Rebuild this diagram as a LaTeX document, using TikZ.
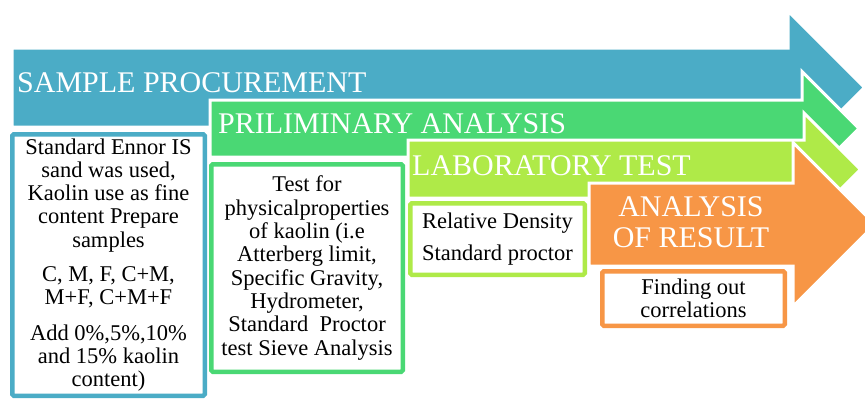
\documentclass[tikz,border=0pt]{standalone}
\usepackage{fontspec}
\setmainfont{Liberation Serif}[Ligatures=TeX]
\usepackage{tikz}
\definecolor{procblue}{HTML}{4BACC6}
\definecolor{prelgreen}{HTML}{4AD874}
\definecolor{labgreen}{HTML}{AFEA48}
\definecolor{resorange}{HTML}{F79646}
\tikzset{%
  phase/.style    = {draw=white, line width=3pt, line join=miter}, % big arrow
  title/.style    = {text=white, inner sep=0pt,
    font=\rmfamily\fontsize{30}{31}\selectfont},
  box/.style      = {draw=#1, line width=4.5pt, rounded corners=1.5pt,
    fill=white, inner sep=0pt, align=center,
    font=\rmfamily\fontsize{22.5}{23.3}\selectfont} % text box
}

\begin{document}
\begin{tikzpicture}[x=1pt, y=-1pt]
\useasboundingbox (0,0) rectangle (865,399);

% arrows, back to front
\filldraw[phase, fill=procblue] (12,48) -- (788,48) -- (788,11) -- (864.5,87.5)
    -- (788,164) -- (788,127) -- (12,127) -- cycle;
\filldraw[phase, fill=prelgreen] (210,100) -- (802,100) -- (802,71.5) -- (859,128.5)
    -- (802,185.5) -- (802,157) -- (210,157) -- cycle;
\filldraw[phase, fill=labgreen] (408,140) -- (804,140) -- (804,113) -- (860.5,169.5)
    -- (804,226) -- (804,198) -- (408,198) -- cycle;
\filldraw[phase, fill=resorange] (589,183) -- (793,183) -- (793,142.5) -- (875,224.5)
    -- (793,306.5) -- (793,266) -- (589,266) -- cycle;

\draw
    node at (17,92)[title, anchor=base west, name=proctitle]{SAMPLE PROCUREMENT}
    node at (218,133)[title, anchor=base west, name=preltitle]{PRILIMINARY ANALYSIS}
    node at (412,175)[title, anchor=base west, name=labtitle]{LABORATORY TEST}
    node at (691,222)[title, align=center, name=restitle]{ANALYSIS\\OF RESULT}
;

\draw
    node at (108.5,265)[box=procblue, minimum width=192.5, minimum height=261.5,
      name=procbox]{Standard Ennor IS\\sand was used,\\Kaolin use as fine\\content Prepare\\samples\\[11pt]
      C, M, F, C+M,\\M+F, C+M+F\\[12pt]
      Add 0\%,5\%,10\%\\and 15\% kaolin\\content)}
    node at (307,268)[box=prelgreen, minimum width=191.5, minimum height=207.5,
      name=prelbox]{Test for\\physicalproperties\\of kaolin (i.e\\Atterberg limit,\\Specific Gravity,\\Hydrometer,\\Standard~~Proctor\\test Sieve Analysis}
    node at (497.5,239)[box=labgreen, minimum width=174.5, minimum height=71.5,
      name=labbox]{Relative Density\\[8.7pt]Standard proctor}
    node at (693.5,298.5)[box=resorange, minimum width=182.5, minimum height=54.5,
      name=resbox]{Finding out\\correlations}
;
\end{tikzpicture}
\end{document}
